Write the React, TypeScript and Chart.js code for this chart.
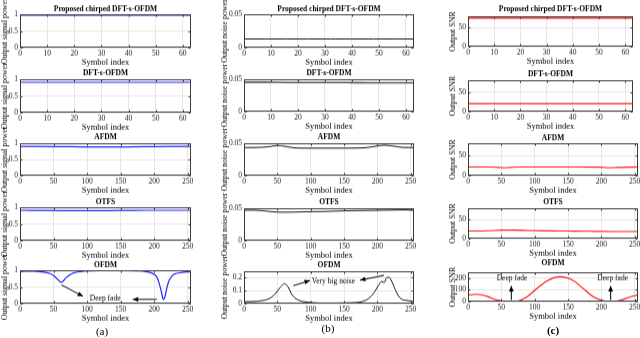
import React, { useEffect, useRef } from 'react';
import { Chart, registerables } from 'chart.js';
Chart.register(...registerables);

const FONT = '"Liberation Serif", "Times New Roman", serif';

// ---------- labels ----------
const panelTitles = ['Proposed chirped DFT-s-OFDM', 'DFT-s-OFDM', 'AFDM', 'OTFS', 'OFDM'];
const yTitles = ['Output signal power', 'Output noise power', 'Output SNR'];
const xTitle = 'Symbol index';
const subLabels = ['(a)', '(b)', '(c)'];

// ---------- tick values ----------
const ticks64 = [0, 10, 20, 30, 40, 50, 60];
const ticks256 = [0, 50, 100, 150, 200, 250];
const sigTicks = [0, 0.5, 1];
const noiseTicks = [0, 0.05];
const noiseTicksOfdm = [0, 0.1, 0.2];
const snrTicks = [0, 50];
const snrTicksOfdm = [0, 100, 200];

// ---------- symbol indices ----------
const sym64 = [0, 8, 16, 24, 32, 40, 48, 56, 63];
const sym256 = [0, 32, 64, 96, 128, 160, 192, 224, 255];

// ---------- (a) output signal power ----------
const sigProp = [0.985, 0.985, 0.985, 0.985, 0.985, 0.985, 0.985, 0.985, 0.985];
const sigDft = [0.91, 0.91, 0.91, 0.91, 0.91, 0.91, 0.91, 0.91, 0.91];
const sigAfdm = [0.9, 0.9, 0.895, 0.89, 0.89, 0.89, 0.895, 0.9, 0.9];
const sigOtfs = [0.91, 0.905, 0.9, 0.9, 0.9, 0.905, 0.91, 0.91, 0.91];
const sigOfdmX = [0, 10, 20, 30, 40, 45, 50, 55, 58, 61, 64, 67, 70, 75, 80, 90, 100, 120, 140, 160, 180, 190, 195, 200, 204, 207, 210, 212, 213, 214, 216, 218, 220, 223, 227, 232, 240, 248, 255];
const sigOfdm = [0.96, 0.97, 0.97, 0.96, 0.93, 0.9, 0.84, 0.75, 0.69, 0.64, 0.67, 0.74, 0.8, 0.87, 0.92, 0.96, 0.98, 0.99, 0.99, 0.99, 0.98, 0.95, 0.93, 0.88, 0.8, 0.65, 0.42, 0.25, 0.15, 0.13, 0.2, 0.38, 0.55, 0.72, 0.84, 0.9, 0.93, 0.95, 0.97];

// ---------- (b) output noise power ----------
const noiseProp = [0.013, 0.013, 0.013, 0.013, 0.013, 0.013, 0.013, 0.013, 0.013];
const noiseDft = [0.0455, 0.0455, 0.045, 0.045, 0.045, 0.0448, 0.0445, 0.0445, 0.0445];
const noiseAfdmX = [0, 20, 40, 50, 60, 75, 90, 120, 150, 180, 195, 210, 225, 240, 255];
const noiseAfdm = [0.0435, 0.0435, 0.045, 0.0465, 0.0455, 0.043, 0.0425, 0.0425, 0.0425, 0.043, 0.045, 0.047, 0.0455, 0.0435, 0.0435];
const noiseOtfsX = [0, 15, 30, 50, 70, 90, 120, 150, 180, 210, 240, 255];
const noiseOtfs = [0.047, 0.047, 0.046, 0.044, 0.044, 0.0445, 0.045, 0.046, 0.0465, 0.047, 0.0475, 0.047];
const noiseOfdmX = [0, 25, 40, 47, 55, 61, 66, 72, 80, 95, 125, 160, 184, 194, 202, 207, 210, 214, 217, 222, 227, 234, 244, 255];
const noiseOfdm = [0.015, 0.022, 0.045, 0.077, 0.13, 0.155, 0.13, 0.07, 0.032, 0.012, 0.005, 0.007, 0.03, 0.077, 0.143, 0.173, 0.162, 0.2, 0.205, 0.168, 0.106, 0.044, 0.025, 0.018];

// ---------- (c) output SNR ----------
const snrProp = [75, 75, 75, 75, 75, 75, 75, 75, 75];
const snrDft = [20.5, 20.5, 20.5, 20.5, 20.5, 20.5, 20.5, 20.5, 20.5];
const snrAfdmX = [0, 30, 45, 55, 65, 80, 120, 160, 195, 205, 215, 225, 255];
const snrAfdm = [21.5, 21.5, 20.5, 19.5, 20.5, 21.5, 21.5, 21.5, 21, 20, 19.5, 20.5, 21.5];
const snrOtfsX = [0, 30, 50, 70, 90, 120, 150, 180, 220, 255];
const snrOtfs = [20, 21, 22.5, 22.5, 21.5, 20.5, 20, 19.5, 19, 19];
const snrOfdmX = [0, 13, 28, 43, 58, 65, 73, 88, 103, 118, 138, 158, 173, 188, 203, 215, 228, 243, 255];
const snrOfdm = [57, 63, 47, 16, 3, 2, 4, 40, 110, 175, 212, 180, 111, 42, 8, 1, 12, 40, 58];

// ---------- annotations (data coordinates) ----------
const sigArrows = [[62, 0.56, 94, 0.22], [204, 0.13, 168, 0.13]];
const sigNotes = [{ x: 127, y: 0.15, text: 'Deep fade' }];
const noiseArrows = [[74, 0.139, 99, 0.179], [210, 0.219, 174, 0.181]];
const noiseNotes = [{ x: 134, y: 0.174, text: 'Very big noise' }];
const snrArrows = [[65, 14, 65, 133], [214, 14, 214, 133]];
const snrNotes = [{ x: 66, y: 195, text: 'Deep fade' }, { x: 217, y: 195, text: 'Deep fade' }];

// ---------- layout / style ----------
const TICK_SIZE = 7.5;
const XT_SIZE = 8.5;
const YT_SIZE = 8;
const TITLE_SIZE = 7.5;
const NOTE_SIZE = 7.5;
const X_TITLE_OFF = 14.8;
const X_TICK_PAD = 1.5;

type Note = { x: number; y: number; text: string };
type PanelDef = {
  rect: number[];
  titleY: number;
  yTitleX: number;
  title: string;
  yTitle: string;
  xs: number[];
  ys: number[];
  xMax: number;
  xTicks: number[];
  yMax: number;
  yTicks: number[];
  color: string;
  lw: number;
  arrows?: number[][];
  notes?: Note[];
};

const BLUE = '#1f1fff';
const BLACK = '#111111';
const RED = '#ff1010';

const colA = { l: 20, r: 191, yTitleX: 5 };
const colB = { l: 244, r: 414, yTitleX: 225 };
const colC = { l: 468, yTitleX: 453 };
const rowsA = [[14, 48], [79, 113], [143, 176], [207, 241], [270, 304]];
const rowsB = [[14, 48], [79, 112], [143, 176], [208, 241], [271, 304]];
const rowsC = [[16, 47], [80, 112], [143, 176], [208, 239], [272, 302]];
const titleYAB = [9, 73, 137, 202, 265];
const titleYC = [9, 74, 138, 202, 263];
const rightC = [633, 633, 638, 638, 638];

const sigSeries = [
  [sym64, sigProp], [sym64, sigDft], [sym256, sigAfdm], [sym256, sigOtfs], [sigOfdmX, sigOfdm],
];
const noiseSeries = [
  [sym64, noiseProp], [sym64, noiseDft], [noiseAfdmX, noiseAfdm], [noiseOtfsX, noiseOtfs], [noiseOfdmX, noiseOfdm],
];
const snrSeries = [
  [sym64, snrProp], [sym64, snrDft], [snrAfdmX, snrAfdm], [snrOtfsX, snrOtfs], [snrOfdmX, snrOfdm],
];

function makePanels(): PanelDef[] {
  const out: PanelDef[] = [];
  for (let i = 0; i < 5; i++) {
    const is64 = i < 2;
    const xMax = is64 ? 63 : 255;
    const xTicks = is64 ? ticks64 : ticks256;
    out.push({
      rect: [colA.l, rowsA[i][0], colA.r, rowsA[i][1]],
      titleY: titleYAB[i], yTitleX: colA.yTitleX, title: panelTitles[i], yTitle: yTitles[0],
      xs: sigSeries[i][0], ys: sigSeries[i][1], xMax, xTicks, yMax: 1, yTicks: sigTicks,
      color: BLUE, lw: i === 0 ? 1.8 : 1.2,
      arrows: i === 4 ? sigArrows : undefined, notes: i === 4 ? sigNotes : undefined,
    });
    out.push({
      rect: [colB.l, rowsB[i][0], colB.r, rowsB[i][1]],
      titleY: titleYAB[i], yTitleX: colB.yTitleX, title: panelTitles[i], yTitle: yTitles[1],
      xs: noiseSeries[i][0], ys: noiseSeries[i][1], xMax, xTicks,
      yMax: i === 4 ? 0.25 : 0.05, yTicks: i === 4 ? noiseTicksOfdm : noiseTicks,
      color: i === 1 ? '#555555' : BLACK, lw: i === 1 ? 1.6 : 1.0,
      arrows: i === 4 ? noiseArrows : undefined, notes: i === 4 ? noiseNotes : undefined,
    });
    out.push({
      rect: [colC.l, rowsC[i][0], rightC[i], rowsC[i][1]],
      titleY: titleYC[i], yTitleX: colC.yTitleX, title: panelTitles[i], yTitle: yTitles[2],
      xs: snrSeries[i][0], ys: snrSeries[i][1], xMax, xTicks,
      yMax: i === 4 ? 250 : 80, yTicks: i === 4 ? snrTicksOfdm : snrTicks,
      color: RED, lw: 1.1,
      arrows: i === 4 ? snrArrows : undefined, notes: i === 4 ? snrNotes : undefined,
    });
  }
  return out;
}

function drawArrow(ctx: CanvasRenderingContext2D, x1: number, y1: number, x2: number, y2: number) {
  ctx.beginPath();
  ctx.moveTo(x1, y1);
  ctx.lineTo(x2, y2);
  ctx.stroke();
  const ang = Math.atan2(y2 - y1, x2 - x1);
  const L = 5.5, Wd = 2.4;
  const bx = x2 - L * Math.cos(ang), by = y2 - L * Math.sin(ang);
  ctx.beginPath();
  ctx.moveTo(x2, y2);
  ctx.lineTo(bx + Wd * Math.sin(ang), by - Wd * Math.cos(ang));
  ctx.lineTo(bx - Wd * Math.sin(ang), by + Wd * Math.cos(ang));
  ctx.closePath();
  ctx.fill();
}

function layoutOf(p: PanelDef) {
  const [pl, pt, pr, pb] = p.rect;
  const cl = pl - 30;
  const ct = pt - 30;
  const W = pr + 12 - cl;
  const B = X_TITLE_OFF + (XT_SIZE * 1.2) / 2;
  const H = pb - ct + B + 30;
  return { cl, ct, W, H, B };
}

function buildConfig(p: PanelDef): any {
  const { cl, ct, B } = layoutOf(p);
  const [pl, pt] = p.rect;
  const LHt = TITLE_SIZE * 1.2;
  const tPadTop = p.titleY - LHt / 2 - ct;
  const tPadBottom = pt - ct - LHt - tPadTop;
  const LHy = YT_SIZE * 1.2;
  const yPad = p.yTitleX - LHy / 2 - cl;
  const yW = pl - cl;

  const deco = {
    id: 'deco' + Math.random().toString(36).slice(2),
    afterDatasetsDraw(chart: any) {
      const { ctx, chartArea: a, scales } = chart;
      const xs = scales.x, ys = scales.y;
      const L = Math.round(a.left) + 0.5, R = Math.round(a.right) - 0.5;
      const T = Math.round(a.top) + 0.5, Bt = Math.round(a.bottom) - 0.5;
      ctx.save();
      ctx.strokeStyle = '#3a3a3a';
      ctx.lineWidth = 1;
      ctx.strokeRect(L, T, R - L, Bt - T);
      const tl = 2;
      ctx.beginPath();
      p.xTicks.forEach((v) => {
        const px = Math.round(xs.getPixelForValue(v)) + 0.5;
        ctx.moveTo(px, Bt); ctx.lineTo(px, Bt - tl);
        ctx.moveTo(px, T); ctx.lineTo(px, T + tl);
      });
      p.yTicks.forEach((v) => {
        const py = Math.round(ys.getPixelForValue(v)) + 0.5;
        ctx.moveTo(L, py); ctx.lineTo(L + tl, py);
        ctx.moveTo(R, py); ctx.lineTo(R - tl, py);
      });
      ctx.stroke();
      ctx.strokeStyle = '#000';
      ctx.fillStyle = '#000';
      ctx.lineWidth = 1;
      (p.arrows || []).forEach((ar) => {
        drawArrow(ctx, xs.getPixelForValue(ar[0]), ys.getPixelForValue(ar[1]), xs.getPixelForValue(ar[2]), ys.getPixelForValue(ar[3]));
      });
      ctx.font = `${NOTE_SIZE}px ${FONT}`;
      ctx.textAlign = 'center';
      ctx.textBaseline = 'middle';
      (p.notes || []).forEach((n) => {
        ctx.fillText(n.text, xs.getPixelForValue(n.x), ys.getPixelForValue(n.y));
      });
      ctx.restore();
    },
  };

  return {
    type: 'line',
    data: {
      datasets: [
        {
          data: p.xs.map((x, i) => ({ x, y: p.ys[i] })),
          borderColor: p.color,
          borderWidth: p.lw,
          pointRadius: 0,
          fill: false,
          cubicInterpolationMode: 'monotone',
        },
      ],
    },
    options: {
      animation: false,
      responsive: false,
      maintainAspectRatio: false,
      devicePixelRatio: 1,
      events: [],
      layout: { autoPadding: false, padding: { top: 0, left: 0, right: 12, bottom: 30 } },
      plugins: {
        legend: { display: false },
        tooltip: { enabled: false },
        title: {
          display: true,
          text: p.title,
          fullSize: false,
          color: '#000',
          font: { family: FONT, size: TITLE_SIZE, weight: 'bold', lineHeight: 1.2 },
          padding: { top: tPadTop, bottom: tPadBottom },
        },
      },
      scales: {
        x: {
          type: 'linear',
          min: 0,
          max: p.xMax,
          afterBuildTicks: (s: any) => { s.ticks = p.xTicks.map((v) => ({ value: v })); },
          afterFit: (s: any) => { s.height = B; },
          ticks: {
            color: '#222',
            font: { family: FONT, size: TICK_SIZE },
            padding: X_TICK_PAD,
            maxRotation: 0,
            autoSkip: false,
            callback: (v: any) => String(v),
          },
          grid: { color: '#e6e6e6', lineWidth: 1, drawTicks: false },
          border: { display: false },
          title: {
            display: true,
            text: xTitle,
            color: '#000',
            font: { family: FONT, size: XT_SIZE, lineHeight: 1.2 },
            padding: 0,
          },
        },
        y: {
          type: 'linear',
          min: 0,
          max: p.yMax,
          afterBuildTicks: (s: any) => { s.ticks = p.yTicks.map((v) => ({ value: v })); },
          afterFit: (s: any) => { s.width = yW; },
          ticks: {
            color: '#222',
            font: { family: FONT, size: TICK_SIZE },
            padding: 2,
            autoSkip: false,
            callback: (v: any) => String(v),
          },
          grid: { color: '#e6e6e6', lineWidth: 1, drawTicks: false },
          border: { display: false },
          title: {
            display: true,
            text: p.yTitle,
            color: '#000',
            font: { family: FONT, size: YT_SIZE, lineHeight: 1.2 },
            padding: { top: yPad, bottom: 0 },
          },
        },
      },
    },
    plugins: [deco],
  };
}

function Panel({ p }: { p: PanelDef }) {
  const ref = useRef<HTMLCanvasElement | null>(null);
  const { cl, ct, W, H } = layoutOf(p);
  useEffect(() => {
    if (!ref.current) return;
    const chart = new Chart(ref.current, buildConfig(p));
    return () => chart.destroy();
  }, []);
  return (
    <canvas
      ref={ref}
      width={W}
      height={H}
      style={{ position: 'absolute', left: cl, top: ct, width: W, height: H }}
    />
  );
}

const subLabelX = [102, 328, 553];
const subLabelY = [331, 328, 330];

export default function App() {
  const panels = makePanels();
  return (
    <div
      style={{
        position: 'fixed', left: 0, top: 0, width: 640, height: 338,
        background: '#fff', overflow: 'hidden',
      }}
    >
      {panels.map((p, i) => (
        <Panel key={i} p={p} />
      ))}
      {subLabels.map((s, i) => (
        <div
          key={s}
          style={{
            position: 'absolute', left: subLabelX[i] - 20, width: 40, top: subLabelY[i] - 7,
            height: 14, lineHeight: '14px', textAlign: 'center',
            fontFamily: FONT, fontSize: 11, color: '#000', fontWeight: i === 2 ? 'bold' : 'normal',
          }}
        >
          {s}
        </div>
      ))}
    </div>
  );
}
